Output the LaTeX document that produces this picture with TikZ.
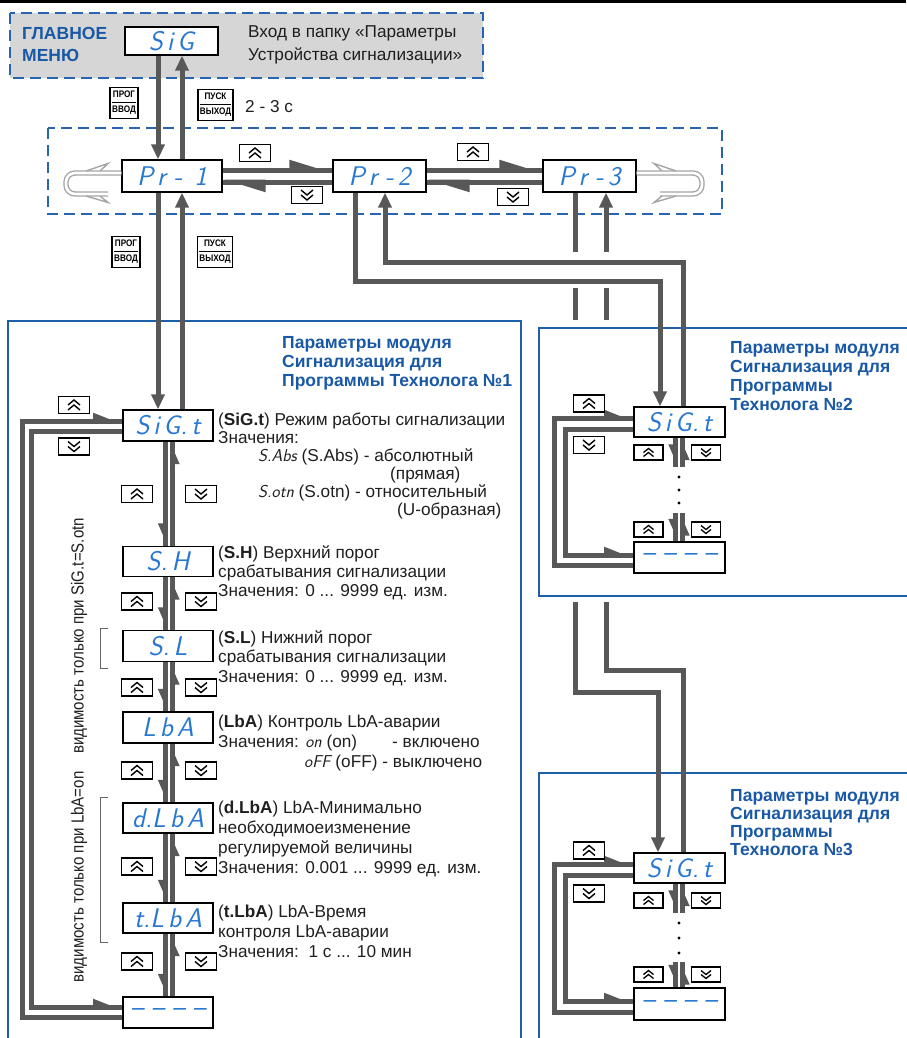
\documentclass[tikz,border=0pt]{standalone}
\usepackage{fontspec}
\setmainfont{Liberation Sans}
\newfontfamily\narrowf[FakeStretch=0.86]{Liberation Sans}
\usetikzlibrary{arrows.meta}
\definecolor{fblue}{RGB}{30,95,170}
\definecolor{tblue}{RGB}{25,88,165}
\definecolor{dblue}{RGB}{40,100,175}
\definecolor{sblue}{RGB}{40,120,210}
\definecolor{lnc}{RGB}{88,88,88}
\definecolor{boxg}{RGB}{214,214,214}
\definecolor{lg}{RGB}{165,165,165}
\newcommand\segf{\sffamily\slshape\fontsize{27}{27}\selectfont}
\newcommand\sk{\kern4pt}
\newcommand\sgi[1]{{\sffamily\slshape #1}}
\newcounter{tn}
\newcommand\TL[4][tx]{\stepcounter{tn}\node[#1] (txt\arabic{tn}) at (#2,#3) {#4};}
\begin{document}
\begin{tikzpicture}[x=1pt,y=-1pt,
  ln/.style={draw=lnc, line width=5pt},
  fa/.style={-{Triangle[length=15pt,width=13pt]}},
  hpH/.style={postaction={draw,-{Triangle[harpoon,length=34pt,width=19pt]}}},
  hpM/.style={postaction={draw,-{Triangle[harpoon,length=22pt,width=15pt]}}},
  hpV/.style={postaction={draw,-{Triangle[harpoon,swap,length=17pt,width=13pt]}}},
  disp/.style={draw=black, line width=1.3pt, fill=white, inner sep=0pt, text=sblue, font=\segf},
  btnb/.style={draw=black, line width=1.2pt, fill=white, inner sep=0pt, minimum width=31pt, minimum height=17pt},
  btnU/.style={btnb, path picture={\draw[line width=1.4pt, shift={(path picture bounding box.center)}] (-6,0)--(0,-5)--(6,0) (-6,5)--(0,0)--(6,5);}},
  btnD/.style={btnb, path picture={\draw[line width=1.4pt, shift={(path picture bounding box.center)}] (-6,-5)--(0,0)--(6,-5) (-6,0)--(0,5)--(6,0);}},
  sbtnb/.style={draw=black, line width=1.2pt, fill=white, inner sep=0pt, minimum width=29pt, minimum height=15pt},
  sbtnU/.style={sbtnb, path picture={\draw[line width=1.3pt, shift={(path picture bounding box.center)}] (-5,0)--(0,-4)--(5,0) (-5,4)--(0,0)--(5,4);}},
  sbtnD/.style={sbtnb, path picture={\draw[line width=1.3pt, shift={(path picture bounding box.center)}] (-5,-4)--(0,0)--(5,-4) (-5,0)--(0,4)--(5,0);}},
  kbtn/.style={draw=black, line width=1.3pt, fill=white, inner xsep=2pt, inner ysep=3pt, minimum width=28pt, minimum height=30pt, font=\narrowf\bfseries\fontsize{9.5}{10}\selectfont},
  tx/.style={anchor=base west, inner sep=0pt, font=\fontsize{17.2}{19}\selectfont, text=black!88},
  ttl/.style={anchor=base west, inner sep=0pt, font=\fontsize{17.5}{19}\selectfont\bfseries, text=tblue},
  vt/.style={rotate=90, inner sep=0pt, font=\narrowf\fontsize{17.5}{18}\selectfont, text=black!88},
  brk/.style={draw=black!60, line width=0.9pt},
  frame/.style={draw=fblue, line width=1.6pt},
  dashbox/.style={draw=dblue, line width=2.5pt, dash pattern=on 11pt off 6pt},
  loopln/.style={draw=lg, line width=1.4pt, double=white, double distance=2.6pt, rounded corners=9pt}
]
\useasboundingbox (0,0) rectangle (906,1038);
\draw[line width=3pt] (0,2) -- (906,2);

% ---------- top area ----------
\draw[dashbox, fill=boxg] (10,13) rectangle (483,78);
\draw[dashbox] (48,128) rectangle (722,214);
\TL[ttl]{22}{39.5}{ГЛАВНОЕ}
\TL[ttl]{22}{62}{МЕНЮ}
\TL{248}{38}{Вход в папку «Параметры}
\TL{248}{61}{Устройства сигнализации»}
\node[disp, minimum width=93pt, minimum height=28pt] (sig) at (171.5,41) {S\sk i\sk G\hspace{22pt}};
\node[kbtn] (kp0) at (124,103) {\begin{tabular}{@{}c@{}}ПРОГ\\[1pt]\hline\rule{0pt}{10pt}ВВОД\end{tabular}};
\node[kbtn] (ke0) at (215.5,105) {\begin{tabular}{@{}c@{}}ПУСК\\[1pt]\hline\rule{0pt}{10pt}ВЫХОД\end{tabular}};
\TL{245}{113}{2 - 3 с}

\node[disp, minimum width=100pt, minimum height=32pt] (pr1) at (172,176) {P\sk r\sk\sk -\sk\sk\sk 1};
\node[disp, minimum width=93pt, minimum height=32pt] (pr2) at (379.5,176) {P\sk r\sk\sk -\sk 2};
\node[disp, minimum width=93pt, minimum height=32pt] (pr3) at (589.5,176) {P\sk r\sk\sk -\sk 3};

\coordinate (xa) at (158,0); \coordinate (xb) at (182,0);
\draw[ln, fa] (sig.south -| xa) -- (pr1.north -| xa);
\draw[ln, fa] (pr1.north -| xb) -- (sig.south -| xb);

\coordinate (yu) at (0,170); \coordinate (yd) at (0,182);
\draw[ln, hpH] (pr1.east |- yu) -- (pr2.west |- yu);
\draw[ln, hpH] (pr2.west |- yd) -- (pr1.east |- yd);
\draw[ln, hpH] (pr2.east |- yu) -- (pr3.west |- yu);
\draw[ln, hpH] (pr3.west |- yd) -- (pr2.east |- yd);
\node[btnU] (u12) at (255,153) {};
\node[btnD] (d12) at (307,195) {};
\node[btnU] (u23) at (473,152) {};
\node[btnD] (d23) at (513,197) {};

% wrap-around symbols
\coordinate (lt) at (66,173); \coordinate (lb) at (66,194);
\draw[loopln] (pr1.west |- lt) -- (lt) -- (lb) -- (108,194);
\draw[draw=lg, line width=1.4pt] (86,171) -- (108,163.5) -- (100,171);
\draw[draw=lg, line width=1.4pt] (86,196) -- (108,202.5) -- (100,196);
\coordinate (rt) at (702,173); \coordinate (rb) at (702,194);
\draw[loopln] (pr3.east |- rt) -- (rt) -- (rb) -- (660,194);
\draw[draw=lg, line width=1.4pt] (676,171) -- (654,163.5) -- (662,171);
\draw[draw=lg, line width=1.4pt] (676,196) -- (654,202.5) -- (662,196);

% ---------- frames 1 and 3 ----------
\draw[frame] (8,321) rectangle (521,1050);
\draw[frame] (539,773) rectangle (915,1050);

% ---------- module 3 displays + Pr-3 connectors ----------
\node[disp, minimum width=91pt, minimum height=30pt] (sig3) at (679.5,868) {S\sk i\sk G.\sk t};
\node[disp, minimum width=91pt, minimum height=32pt] (end3) at (679.5,1004) {\textendash\sk\sk\textendash\sk\sk\textendash\sk\sk\textendash};
\coordinate (p3a) at (575,692); \coordinate (p3b) at (606,670);
\coordinate (m3a) at (658,0); \coordinate (m3b) at (683,0);
\draw[ln, fa] (pr3.south -| p3a) -- (p3a) -| (sig3.north -| m3a);
\draw[ln, fa] (sig3.north -| m3b) |- (p3b) -- (pr3.south -| p3b);
\fill[white] (568,252) rectangle (613,288);
\fill[white] (568,320) rectangle (613,602);

% ---------- frame 2 ----------
\draw[frame] (539,328) rectangle (915,596);
\node[disp, minimum width=91pt, minimum height=30pt] (sig2) at (679.5,422) {S\sk i\sk G.\sk t};
\node[disp, minimum width=91pt, minimum height=31pt] (end2) at (679.5,557.5) {\textendash\sk\sk\textendash\sk\sk\textendash\sk\sk\textendash};
\coordinate (p2a) at (355,281); \coordinate (p2b) at (385,262);
\coordinate (m2a) at (660,0); \coordinate (m2b) at (683,0);
\draw[ln, fa] (pr2.south -| p2a) -- (p2a) -| (sig2.north -| m2a);
\draw[ln, fa] (sig2.north -| m2b) |- (p2b) -- (pr2.south -| p2b);

% ---------- module 1 ----------
\node[disp, minimum width=90pt, minimum height=31pt] (sigt1) at (168,425.5) {S\sk i\sk G.\sk t};
\draw[ln, fa] (pr1.south -| xa) -- (sigt1.north -| xa);
\draw[ln, fa] (sigt1.north -| xb) -- (pr1.south -| xb);
\node[kbtn] (kp1) at (126,252) {\begin{tabular}{@{}c@{}}ПРОГ\\[1pt]\hline\rule{0pt}{10pt}ВВОД\end{tabular}};
\node[kbtn] (ke1) at (215,252) {\begin{tabular}{@{}c@{}}ПУСК\\[1pt]\hline\rule{0pt}{10pt}ВЫХОД\end{tabular}};

\node[disp, minimum width=90pt, minimum height=30pt] (sh1) at (168,561.5) {S.\sk H\hspace{30pt}};
\node[disp, minimum width=90pt, minimum height=31pt] (sl1) at (168,646) {S.\sk L\hspace{30pt}};
\node[disp, minimum width=90pt, minimum height=31pt] (lba1) at (168,727.5) {L\sk b\sk A\hspace{12pt}};
\node[disp, minimum width=90pt, minimum height=30pt] (dlba1) at (168,818) {d.L\sk b\sk A};
\node[disp, minimum width=90pt, minimum height=30pt] (tlba1) at (168,918) {t.L\sk b\sk A};
\node[disp, minimum width=90pt, minimum height=31pt] (end1) at (168,1012.5) {\textendash\sk\sk\textendash\sk\sk\textendash\sk\sk\textendash};

\coordinate (cd) at (165,0); \coordinate (cu) at (172.5,0);
\foreach \a/\b in {sigt1/sh1, sh1/sl1, sl1/lba1, lba1/dlba1, dlba1/tlba1, tlba1/end1}{
  \draw[ln, hpV] (\a.south -| cd) -- (\b.north -| cd);
  \draw[ln, hpV] (\b.north -| cu) -- (\a.south -| cu);
}
\foreach \y [count=\i] in {494,601.5,687.5,770.5,866.5,961.5}{
  \node[btnU] (cbu\i) at (137,\y) {};
  \node[btnD] (cbd\i) at (201,\y) {};
}
\coordinate (o1a) at (22,1017); \coordinate (o1b) at (22,421);
\coordinate (i1a) at (31,431); \coordinate (i1b) at (31,1007);
\draw[ln, hpM] (end1.west |- o1a) -- (o1a) -- (o1b) -- (sigt1.west |- o1b);
\draw[ln, hpM] (sigt1.west |- i1a) -- (i1a) -- (i1b) -- (end1.west |- i1b);
\node[btnU] (lu1) at (74,405) {};
\node[btnD] (ld1) at (74,446.5) {};

\node[vt] (vis1) at (79,636) {видимость только при SiG.t=S.otn};
\node[vt] (vis2) at (79,877) {видимость только при LbA=on};
\draw[brk] (108,628) -- (100,628) -- (100,668) -- (108,668);
\draw[brk] (108,797) -- (100,797) -- (100,942) -- (108,942);

\TL[ttl]{282}{348}{Параметры модуля}
\TL[ttl]{282}{367}{Сигнализация для}
\TL[ttl]{282}{386}{Программы Технолога №1}
\TL{218}{425.5}{(\textbf{SiG.t}) Режим работы сигнализации}
\TL{218}{443.5}{Значения:}
\TL{258}{461}{\sgi{S.Abs} (S.Abs) - абсолютный}
\TL{390}{479}{(прямая)}
\TL{258}{497.5}{\sgi{S.otn} (S.otn) - относительный}
\TL{397}{515.5}{(U-образная)}
\TL{218}{558.5}{(\textbf{S.H}) Верхний порог}
\TL{218}{577.5}{срабатывания сигнализации}
\TL{218}{596.5}{Значения: 0 ... 9999 ед. изм.}
\TL{218}{643.5}{(\textbf{S.L}) Нижний порог}
\TL{218}{662.5}{срабатывания сигнализации}
\TL{218}{682}{Значения: 0 ... 9999 ед. изм.}
\TL{218}{727.5}{(\textbf{LbA}) Контроль LbA-аварии}
\TL{218}{747.5}{Значения: \sgi{on} (on)}
\TL{392}{747.5}{- включено}
\TL{304}{767.5}{\sgi{oFF} (oFF) - выключено}
\TL{218}{813.5}{(\textbf{d.LbA}) LbA-Минимально}
\TL{218}{833.5}{необходимоеизменение}
\TL{218}{853.5}{регулируемой величины}
\TL{218}{873.5}{Значения: 0.001 ... 9999 ед. изм.}
\TL{218}{917.5}{(\textbf{t.LbA}) LbA-Время}
\TL{218}{937.5}{контроля LbA-аварии}
\TL{218}{957.5}{Значения:\ \ 1 с ... 10 мин}

% ---------- module 2 internals ----------
\coordinate (o2a) at (554,565); \coordinate (o2b) at (554,418);
\coordinate (i2a) at (565,429); \coordinate (i2b) at (565,555);
\draw[ln, hpM] (end2.west |- o2a) -- (o2a) -- (o2b) -- (sig2.west |- o2b);
\draw[ln, hpM] (sig2.west |- i2a) -- (i2a) -- (i2b) -- (end2.west |- i2b);
\node[btnU] (lu2) at (589,403.5) {};
\node[btnD] (ld2) at (589,445) {};
\coordinate (c2d) at (675.5,467); \coordinate (c2u) at (682.5,467);
\coordinate (c2d2) at (675.5,513); \coordinate (c2u2) at (682.5,513);
\draw[ln, hpV] (sig2.south -| c2d) -- (c2d);
\draw[ln, hpV] (c2u) -- (sig2.south -| c2u);
\draw[ln, hpV] (c2d2) -- (end2.north -| c2d2);
\draw[ln, hpV] (end2.north -| c2u2) -- (c2u2);
\fill (679,477) circle (1.6pt) (679,490) circle (1.6pt) (679,503) circle (1.6pt);
\node[sbtnU] (pu2a) at (648.5,452.5) {};
\node[sbtnD] (pd2a) at (706,452.5) {};
\node[sbtnU] (pu2b) at (648.5,529.5) {};
\node[sbtnD] (pd2b) at (706,529.5) {};
\TL[ttl]{730}{353}{Параметры модуля}
\TL[ttl]{730}{372}{Сигнализация для}
\TL[ttl]{730}{391}{Программы}
\TL[ttl]{730}{410}{Технолога №2}

% ---------- module 3 internals ----------
\coordinate (o3a) at (554,1012); \coordinate (o3b) at (554,864);
\coordinate (i3a) at (565,875); \coordinate (i3b) at (565,1001);
\draw[ln, hpM] (end3.west |- o3a) -- (o3a) -- (o3b) -- (sig3.west |- o3b);
\draw[ln, hpM] (sig3.west |- i3a) -- (i3a) -- (i3b) -- (end3.west |- i3b);
\node[btnU] (lu3) at (589,850.5) {};
\node[btnD] (ld3) at (589,893.5) {};
\coordinate (c3d) at (675.5,913); \coordinate (c3u) at (682.5,913);
\coordinate (c3d2) at (675.5,962); \coordinate (c3u2) at (682.5,962);
\draw[ln, hpV] (sig3.south -| c3d) -- (c3d);
\draw[ln, hpV] (c3u) -- (sig3.south -| c3u);
\draw[ln, hpV] (c3d2) -- (end3.north -| c3d2);
\draw[ln, hpV] (end3.north -| c3u2) -- (c3u2);
\fill (679,923) circle (1.6pt) (679,938) circle (1.6pt) (679,953) circle (1.6pt);
\node[sbtnU] (pu3a) at (648.5,900.5) {};
\node[sbtnD] (pd3a) at (706,900.5) {};
\node[sbtnU] (pu3b) at (648.5,974.5) {};
\node[sbtnD] (pd3b) at (706,974.5) {};
\TL[ttl]{730}{801}{Параметры модуля}
\TL[ttl]{730}{819}{Сигнализация для}
\TL[ttl]{730}{837}{Программы}
\TL[ttl]{730}{855}{Технолога №3}
\end{tikzpicture}
\end{document}
